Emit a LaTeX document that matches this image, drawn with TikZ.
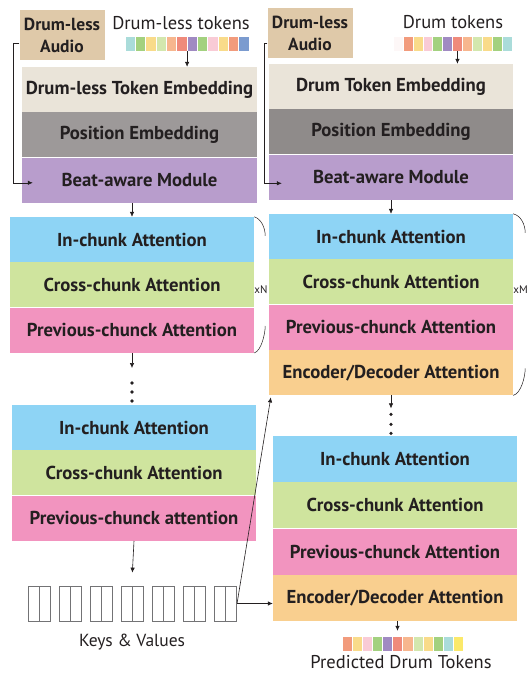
\documentclass[tikz,border=0pt]{standalone}
\usepackage{fontspec}
\setmainfont{PT Sans}
\usepackage{xcolor}
\usetikzlibrary{positioning}
\usetikzlibrary{calc}
\usetikzlibrary{arrows.meta}

\definecolor{ink}{HTML}{231F20}
\definecolor{cAudio}{HTML}{DFC9A9}
\definecolor{cTokEmb}{HTML}{EAE4D9}
\definecolor{cPosA}{HTML}{9D9999}
\definecolor{cPosB}{HTML}{8F8B8A}
\definecolor{cBeat}{HTML}{B89DCC}
\definecolor{cIn}{HTML}{8ED4F5}
\definecolor{cCross}{HTML}{CFE49E}
\definecolor{cPrev}{HTML}{F294BF}
\definecolor{cEnc}{HTML}{F9CF8F}
\definecolor{cKV}{HTML}{737375}
% token colours
\definecolor{tTeal}{HTML}{AADCDA}
\definecolor{tGreen}{HTML}{A3D17F}
\definecolor{tYellow}{HTML}{F9DB8A}
\definecolor{tLime}{HTML}{D3E7AE}
\definecolor{tPeach}{HTML}{F7B68E}
\definecolor{tSalmon}{HTML}{EF8A7B}
\definecolor{tPurple}{HTML}{A08AC2}
\definecolor{tPink}{HTML}{F9CBD6}
\definecolor{tOrange}{HTML}{F29B7C}
\definecolor{tBlue}{HTML}{7B9BCF}
\definecolor{tWhite}{HTML}{FDF7F7}
\definecolor{tLemon}{HTML}{FBE96A}

\begin{document}
\begin{tikzpicture}[x=1pt, y=-1pt, >={Latex[length=5pt,width=4.5pt]},
  blk/.style={minimum width=244pt, minimum height=45pt, inner sep=0pt,
    font=\bfseries\fontsize{18.7}{21}\selectfont, text=ink},
  audio/.style={fill=cAudio, minimum width=85pt, minimum height=50pt, inner sep=0pt,
    align=center, font=\bfseries\fontsize{17.5}{22}\selectfont, text=ink},
  lbl/.style={font=\fontsize{18.5}{21}\selectfont, text=ink, inner sep=0pt, anchor=base},
  tok/.style={minimum width=10pt, minimum height=15pt, inner sep=0pt, draw=white, line width=0.3pt},
  kv/.style={draw=cKV, minimum width=11pt, minimum height=35pt, inner sep=0pt, line width=0.7pt},
  link/.style={->, draw=ink, line width=0.6pt},
  brace/.style={draw=ink, line width=0.5pt},
  dot/.style={circle, fill=ink, inner sep=0pt, minimum size=3.6pt}]
\useasboundingbox (0,0) rectangle (531,673);

%% encoder side
\node[audio] (audA) at (62,35) {Drum-less\\Audio};
\node[lbl] (tokA-lbl) at (181,29) {Drum-less tokens};
\foreach \c [count=\i] in {tTeal,tGreen,tYellow,tLime,tPeach,tSalmon,tPurple,tGreen,tPink,tYellow,tOrange,tBlue}
  \node[tok, fill=\c, minimum width=10.33pt] (lt\i) at ({119.8+10.33*\i},43.5) {};

\node[blk, fill=cTokEmb, minimum width=235pt] (tokA) at (139.5,89.5) {Drum-less Token Embedding};
\node[blk, fill=cPosA, minimum width=235pt, below=0pt of tokA] (posA) {Position Embedding};
\node[blk, fill=cBeat, minimum width=235pt, below=0pt of posA] (beatA) {Beat-aware Module};

\node[blk, fill=cIn] (inA) at (132,239.5) {In-chunk Attention};
\node[blk, fill=cCross, below=0pt of inA] (crossA) {Cross-chunk Attention};
\node[blk, fill=cPrev, below=0pt of crossA] (prevA) {Previous-chunck Attention};

\coordinate (dotsA) at ($(prevA.south)+(0,15)$);
\node[dot] (dA1) at ($(dotsA)+(0,15)$) {};
\node[dot] (dA2) at ($(dotsA)+(0,24)$) {};
\node[dot] (dA3) at ($(dotsA)+(0,33)$) {};

\node[blk, fill=cIn] (inA2) at (134,427.5) {In-chunk Attention};
\node[blk, fill=cCross, below=0pt of inA2] (crossA2) {Cross-chunk Attention};
\node[blk, fill=cPrev, below=0pt of crossA2] (prevA2) {Previous-chunck attention};

% keys and values
\foreach \i in {1,...,7} {
  \node[kv] (kvk\i) at ({33.5+31*(\i-1)},603.5) {};
  \node[kv, right=0pt of kvk\i] (kvv\i) {};
}
\node[lbl, font=\fontsize{17.5}{20}\selectfont] (kv-lbl) at (132,646) {Keys \& Values};

%% decoder side
\node[audio] (audB) at (310,33) {Drum-less\\Audio};
\node[lbl] (tokB-lbl) at (453,28) {Drum tokens};
\foreach \c [count=\i] in {tWhite,tOrange,tYellow,tPink,tGreen,tPurple,tSalmon,tPeach,tLime,tYellow,tGreen,tTeal}
  \node[tok, fill=\c, minimum width=9.92pt] (rt\i) at ({388+9.92*\i},43.5) {};

\node[blk, fill=cTokEmb] (tokB) at (391,86.5) {Drum Token Embedding};
\node[blk, fill=cPosB, below=0pt of tokB] (posB) {Position Embedding};
\node[blk, fill=cBeat, below=0pt of posB] (beatB) {Beat-aware Module};

\node[blk, fill=cIn] (inB) at (391,236.5) {In-chunk Attention};
\node[blk, fill=cCross, below=0pt of inB] (crossB) {Cross-chunk Attention};
\node[blk, fill=cPrev, below=0pt of crossB] (prevB) {Previous-chunck Attention};
\node[blk, fill=cEnc, below=0pt of prevB] (encB) {Encoder/Decoder Attention};

\coordinate (dotsB) at ($(encB.south)+(0,13)$);
\node[dot] (dB1) at ($(dotsB)+(0,6)$) {};
\node[dot] (dB2) at ($(dotsB)+(0,16)$) {};
\node[dot] (dB3) at ($(dotsB)+(0,25)$) {};

\node[blk, fill=cIn, minimum height=46pt] (inB2) at (395,459) {In-chunk Attention};
\node[blk, fill=cCross, minimum height=46pt, below=0pt of inB2] (crossB2) {Cross-chunk Attention};
\node[blk, fill=cPrev, minimum height=46pt, below=0pt of crossB2] (prevB2) {Previous-chunck Attention};
\node[blk, fill=cEnc, minimum height=46pt, below=0pt of prevB2] (encB2) {Encoder/Decoder Attention};

\foreach \c [count=\i] in {tOrange,tYellow,tPink,tGreen,tPurple,tSalmon,tPeach,tLime,tYellow,tGreen,tTeal,tLemon}
  \node[tok, fill=\c, minimum width=10.1pt] (pt\i) at ({336.9+10.1*\i},643.5) {};
\node[lbl] (pt-lbl) at (401,668.5) {Predicted Drum Tokens};

%% repeat marks
\draw[brace] (inA.north east) .. controls +(7,2) and +(0,-8) .. ++(11,19);
\draw[brace] (prevA.south east) .. controls +(7,-2) and +(0,8) .. ++(11,-27);
\node[font=\fontsize{11}{13}\selectfont, text=ink, inner sep=0pt, anchor=west] (xN) at ([yshift=-5pt]crossA.east) {xN};
\draw[brace] (inB.north east) .. controls +(8,2) and +(0,-8) .. ++(12,19);
\draw[brace] (encB.south east) .. controls +(8,-2) and +(0,8) .. ++(12,-27);
\node[font=\fontsize{11}{13}\selectfont, text=ink, inner sep=0pt, anchor=west] (xM) at ([yshift=-7.5pt]crossB.east) {xM};

%% arrows
\draw[link] (lt6.south east) -- (lt6.south east |- tokA.north);
\draw[link] ([yshift=-8pt]audA.west) -- ++(-6,0) |- ([shift={(11pt,-2.5pt)}]beatA.west);
\draw[link] (inA.north |- beatA.south) -- (inA.north);
\draw[link] (prevA.south) -- (dotsA);
\draw[link] (prevA2.south) -- ([yshift=13pt]kvk4.north east);

\draw[link] (rt7.south) -- (rt7.south |- tokB.north);
\draw[link] ([yshift=-10pt]audB.west) -- ++(-3,0) |- ([shift={(13pt,-6pt)}]beatB.west);
\draw[link] (inB.north |- beatB.south) -- (inB.north);
\draw[link] (encB.south) -- (dotsB);
\draw[link, shorten >=5pt] (pt6.north |- encB2.south) -- (pt6.north);

\draw[link] (kvv7.east) -- (kvv7.east -| encB2.west);
\draw[link] (kvv7.east) -- ([shift={(2pt,-2pt)}]encB.south west);
\end{tikzpicture}
\end{document}
